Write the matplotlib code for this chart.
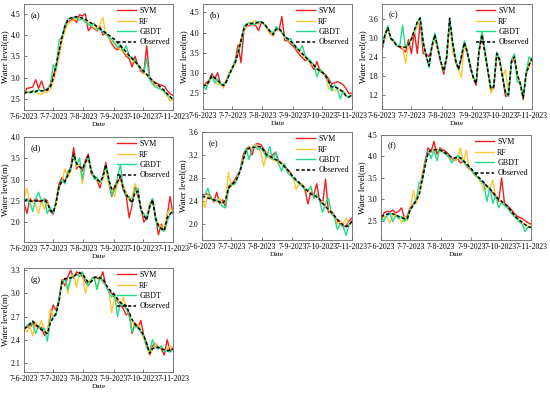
import matplotlib
matplotlib.use("Agg")
import matplotlib.pyplot as plt
import numpy as np
import pandas as pd

plt.rcParams['font.family'] = ['Liberation Serif', 'DejaVu Serif']

dates = pd.date_range('2023-06-07', periods=52, freq='3D')
tick_dates = pd.to_datetime(['2023-06-07', '2023-07-07', '2023-08-07', '2023-09-07', '2023-10-07', '2023-11-07'])
tick_labels = ['7-6-2023', '7-7-2023', '7-8-2023', '7-9-2023', '7-10-2023', '7-11-2023']
series_names = ['SVM', 'RF', 'GBDT', 'Observed']

# ---------------- (a) ----------------
obs_a = [2.65, 2.65, 2.66, 2.67, 2.68, 2.70, 2.69, 2.70, 2.72, 2.78, 2.98, 3.30, 3.62, 3.95, 4.20, 4.36, 4.40, 4.42, 4.43, 4.42,
         4.40, 4.37, 4.32, 4.28, 4.25, 4.20, 4.15, 4.10, 4.05, 4.00, 3.95, 3.90, 3.82, 3.75, 3.68, 3.60, 3.52, 3.45, 3.38, 3.30,
         3.22, 3.15, 3.08, 3.00, 2.93, 2.87, 2.82, 2.76, 2.70, 2.62, 2.55, 2.48]
svm_a = [2.58, 2.75, 2.76, 2.78, 2.95, 2.75, 2.92, 2.72, 2.70, 2.85, 3.05, 3.25, 3.55, 3.90, 4.15, 4.30, 4.35, 4.38, 4.30, 4.48,
         4.45, 4.50, 4.10, 4.20, 4.15, 4.10, 4.20, 4.00, 4.05, 3.95, 3.80, 3.70, 3.65, 3.75, 3.60, 3.50, 3.45, 3.25, 3.50, 3.30,
         3.15, 3.10, 3.75, 3.00, 2.92, 2.88, 2.85, 2.82, 2.80, 2.70, 2.62, 2.58]
rf_a = [2.65, 2.68, 2.63, 2.70, 2.66, 2.62, 2.60, 2.68, 2.65, 2.72, 2.90, 3.15, 3.50, 3.85, 4.10, 4.28, 4.32, 4.35, 4.38, 4.40,
        4.38, 4.35, 4.30, 4.22, 4.18, 4.12, 4.25, 4.42, 4.00, 3.95, 3.85, 3.80, 3.72, 3.65, 3.62, 3.55, 3.50, 3.42, 3.35, 3.28,
        3.20, 3.12, 3.05, 2.98, 2.90, 2.82, 2.78, 2.72, 2.65, 2.58, 2.45, 2.50]
gbdt_a = [2.64, 2.66, 2.64, 2.70, 2.65, 2.72, 2.68, 2.70, 2.75, 2.80, 3.30, 3.20, 3.88, 3.95, 4.25, 4.38, 4.40, 4.42, 4.40, 4.35,
          4.38, 4.30, 4.25, 4.22, 4.28, 4.15, 4.12, 4.08, 4.05, 3.95, 3.90, 3.82, 3.70, 3.78, 3.62, 3.75, 3.50, 3.48, 3.40, 3.30,
          3.22, 3.12, 3.45, 2.95, 2.85, 2.78, 2.75, 2.72, 2.68, 2.60, 2.55, 2.50]

# ---------------- (b) ----------------
obs_b = [2.70, 2.68, 2.78, 2.92, 2.88, 2.80, 2.75, 2.68, 2.78, 2.95, 3.12, 3.25, 3.50, 3.80, 4.10, 4.20, 4.22, 4.23, 4.24, 4.25,
         4.26, 4.22, 4.12, 4.02, 3.95, 4.08, 4.10, 4.02, 3.90, 3.85, 3.78, 3.72, 3.62, 3.55, 3.48, 3.40, 3.32, 3.25, 3.18, 3.10,
         3.05, 3.00, 2.92, 2.78, 2.65, 2.65, 2.62, 2.58, 2.52, 2.42, 2.40, 2.45]
svm_b = [2.62, 2.75, 2.80, 2.98, 2.85, 3.00, 2.72, 2.65, 2.82, 3.00, 3.10, 3.28, 3.70, 3.25, 4.05, 4.15, 4.18, 4.20, 4.18, 4.05,
         4.25, 4.20, 4.10, 3.98, 3.92, 4.10, 4.05, 4.40, 3.80, 3.80, 3.72, 3.65, 3.55, 3.45, 3.38, 3.30, 3.35, 3.20, 3.08, 3.28,
         3.05, 3.00, 2.95, 2.85, 2.72, 2.75, 2.78, 2.75, 2.70, 2.60, 2.48, 2.50]
rf_b = [2.72, 2.70, 2.75, 2.90, 2.80, 2.70, 2.78, 2.62, 2.80, 3.00, 3.15, 3.20, 3.55, 3.85, 4.05, 4.15, 4.22, 4.25, 4.30, 4.20,
        4.28, 4.20, 4.08, 4.00, 3.92, 4.10, 4.05, 4.00, 3.88, 3.82, 3.75, 3.70, 3.60, 3.52, 3.45, 3.38, 3.30, 3.22, 3.15, 3.08,
        3.02, 2.98, 2.90, 2.60, 2.62, 2.55, 2.60, 2.55, 2.50, 2.42, 2.40, 2.45]
gbdt_b = [2.70, 2.58, 2.80, 2.92, 2.75, 2.85, 2.70, 2.72, 2.75, 2.95, 3.10, 3.30, 3.45, 3.75, 4.15, 4.22, 4.25, 4.20, 4.22, 4.28,
          4.25, 4.20, 4.12, 4.05, 3.98, 4.15, 4.08, 4.00, 3.92, 3.80, 3.85, 3.70, 3.62, 3.55, 3.68, 3.42, 3.35, 3.28, 3.20, 2.90,
          3.10, 3.02, 2.90, 2.80, 2.55, 2.70, 2.60, 2.35, 2.55, 2.42, 2.38, 2.45]

# ---------------- (c) ----------------
obs_c = [2.65, 3.10, 3.32, 2.98, 2.90, 2.75, 2.72, 2.70, 2.70, 2.78, 2.95, 3.25, 3.50, 3.62, 2.85, 2.45, 2.12, 2.75, 3.10, 2.65,
         2.25, 1.95, 2.40, 3.62, 2.85, 2.30, 2.00, 2.40, 2.85, 2.55, 2.10, 1.75, 1.55, 2.60, 3.10, 2.55, 1.95, 1.40, 1.45, 2.50,
         2.30, 1.75, 1.25, 1.20, 2.25, 2.40, 1.85, 1.55, 1.10, 1.85, 2.15, 2.35]
svm_c = [2.62, 3.05, 3.30, 2.95, 2.88, 2.75, 2.70, 2.65, 2.55, 2.95, 2.50, 3.20, 2.50, 3.55, 2.50, 2.50, 2.40, 2.70, 3.05, 2.60,
         2.20, 1.85, 2.35, 3.55, 2.80, 2.25, 2.00, 2.35, 2.80, 2.50, 2.15, 1.75, 1.50, 2.55, 3.05, 2.50, 1.95, 1.35, 1.40, 2.45,
         2.25, 1.75, 1.15, 1.18, 2.20, 2.35, 1.80, 1.55, 1.05, 1.85, 2.10, 2.35]
rf_c = [2.68, 3.08, 3.30, 2.95, 2.90, 2.78, 2.70, 2.72, 2.20, 2.75, 3.05, 3.15, 3.35, 3.58, 2.80, 2.40, 2.10, 2.70, 3.05, 2.62,
        2.20, 1.95, 2.40, 3.55, 2.55, 2.30, 2.00, 1.75, 2.85, 2.50, 2.10, 1.70, 1.60, 2.60, 3.15, 2.50, 1.95, 1.25, 1.45, 2.50,
        2.25, 1.75, 2.00, 1.20, 2.25, 2.40, 1.85, 1.50, 1.10, 1.85, 2.15, 2.30]
gbdt_c = [2.70, 3.12, 3.38, 3.00, 2.92, 2.75, 2.72, 3.40, 2.68, 2.80, 2.98, 3.22, 3.48, 3.65, 2.90, 2.45, 2.05, 2.80, 3.15, 2.70,
          2.25, 1.95, 2.45, 3.60, 2.90, 2.35, 1.98, 2.45, 2.90, 2.60, 2.05, 1.78, 1.60, 2.65, 3.20, 2.60, 2.00, 1.40, 1.50, 2.55,
          2.35, 1.78, 1.30, 1.15, 2.30, 2.50, 1.60, 1.60, 1.12, 1.90, 2.40, 2.30]

# ---------------- (d) ----------------
obs_d = [2.50, 2.52, 2.50, 2.48, 2.50, 2.48, 2.50, 2.52, 2.45, 2.28, 2.22, 2.45, 2.85, 2.95, 2.95, 3.10, 3.25, 3.60, 3.38, 3.30,
         3.25, 3.40, 3.55, 3.20, 3.08, 3.00, 2.95, 3.05, 3.35, 3.00, 2.78, 2.80, 2.95, 3.08, 2.78, 2.65, 2.55, 2.45, 2.70, 2.72,
         2.30, 2.15, 2.05, 2.35, 2.52, 2.10, 1.92, 1.85, 1.80, 2.10, 2.18, 2.28]
svm_d = [2.45, 2.20, 2.55, 2.48, 2.55, 2.50, 2.45, 2.55, 2.50, 2.25, 2.18, 2.50, 2.90, 3.05, 2.95, 3.15, 3.30, 3.75, 3.25, 3.35,
         3.20, 3.45, 3.60, 3.15, 3.05, 2.98, 2.80, 3.10, 3.40, 2.95, 2.60, 2.85, 2.95, 3.05, 2.75, 2.60, 2.10, 2.40, 2.85, 2.60,
         2.35, 2.00, 2.10, 2.35, 2.55, 2.15, 1.70, 1.95, 1.80, 2.15, 2.60, 2.20]
rf_d = [2.55, 2.80, 2.45, 2.50, 2.40, 2.20, 2.50, 2.30, 2.48, 2.30, 2.25, 2.40, 2.80, 2.95, 3.25, 3.05, 3.20, 3.55, 3.30, 3.35,
        2.90, 3.35, 3.50, 3.20, 3.05, 3.00, 2.90, 3.00, 3.30, 2.85, 2.80, 2.60, 2.90, 3.00, 2.85, 2.70, 2.50, 2.60, 2.90, 2.70,
        2.30, 2.15, 2.10, 2.45, 2.50, 2.10, 1.95, 1.90, 1.85, 2.20, 2.30, 2.28]
gbdt_d = [2.50, 2.55, 2.45, 2.25, 2.55, 2.70, 2.48, 2.55, 2.20, 2.35, 2.20, 2.50, 2.80, 3.00, 2.90, 3.20, 3.25, 3.58, 3.35, 3.50,
          3.00, 3.40, 3.52, 3.25, 3.00, 3.05, 2.92, 3.08, 3.35, 3.05, 2.62, 2.75, 3.05, 3.35, 2.75, 2.62, 2.58, 2.45, 2.75, 2.80,
          2.25, 2.20, 2.05, 2.40, 2.55, 2.05, 1.90, 1.82, 1.78, 2.00, 2.20, 2.25]

# ---------------- (e) ----------------
obs_e = [2.48, 2.47, 2.45, 2.44, 2.42, 2.40, 2.38, 2.36, 2.42, 2.62, 2.68, 2.72, 2.80, 2.92, 3.12, 3.28, 3.32, 3.34, 3.33, 3.35,
         3.34, 3.28, 3.20, 3.18, 3.15, 3.12, 3.10, 3.05, 3.00, 2.95, 2.88, 2.82, 2.77, 2.72, 2.68, 2.62, 2.57, 2.52, 2.50, 2.47,
         2.43, 2.36, 2.30, 2.25, 2.20, 2.14, 2.08, 2.03, 1.98, 1.95, 1.98, 2.05]
svm_e = [2.50, 2.52, 2.52, 2.48, 2.38, 2.55, 2.35, 2.42, 2.30, 2.65, 2.70, 2.75, 2.85, 2.95, 3.20, 3.30, 3.35, 3.20, 3.38, 3.40,
         3.38, 3.30, 3.22, 3.15, 3.20, 3.25, 3.10, 3.05, 3.02, 2.95, 2.90, 2.80, 2.75, 2.72, 2.68, 2.60, 2.35, 2.55, 2.50, 2.70,
         2.40, 2.35, 2.78, 2.20, 2.22, 2.15, 2.05, 2.00, 1.95, 1.97, 2.05, 2.10]
rf_e = [2.48, 2.28, 2.50, 2.42, 2.45, 2.38, 2.45, 2.35, 2.40, 2.90, 2.65, 2.72, 2.82, 2.95, 3.15, 3.25, 3.35, 3.30, 3.38, 3.35,
        3.25, 3.00, 3.25, 3.15, 3.12, 3.10, 3.05, 3.08, 2.98, 2.95, 2.85, 2.80, 2.60, 2.70, 2.70, 2.62, 2.55, 2.65, 2.45, 2.48,
        2.42, 2.38, 2.30, 2.25, 2.18, 2.15, 2.00, 2.05, 2.00, 2.10, 1.98, 2.02]
gbdt_e = [2.46, 2.50, 2.62, 2.45, 2.40, 2.42, 2.38, 2.30, 2.28, 2.60, 2.70, 2.68, 2.78, 2.95, 3.10, 3.32, 3.12, 3.30, 3.35, 3.30,
          3.32, 3.25, 3.15, 3.35, 3.12, 3.25, 3.05, 2.92, 3.05, 2.90, 2.85, 2.80, 2.75, 2.70, 2.65, 2.60, 2.58, 2.65, 2.45, 2.52,
          2.40, 2.20, 2.35, 2.45, 2.18, 2.12, 1.90, 2.00, 1.95, 1.80, 1.98, 2.05]

# ---------------- (f) ----------------
obs_f = [2.60, 2.62, 2.65, 2.66, 2.66, 2.64, 2.60, 2.57, 2.55, 2.55, 2.78, 2.85, 2.98, 3.10, 3.45, 3.78, 4.08, 4.15, 4.16, 4.15,
         4.15, 4.12, 4.08, 4.03, 3.98, 3.96, 3.98, 3.97, 3.90, 3.84, 3.76, 3.69, 3.61, 3.53, 3.46, 3.39, 3.31, 3.24, 3.17, 3.08,
         3.00, 2.95, 2.90, 2.84, 2.75, 2.66, 2.58, 2.52, 2.46, 2.41, 2.36, 2.34]
svm_f = [2.52, 2.68, 2.72, 2.70, 2.75, 2.68, 2.72, 2.80, 2.55, 2.62, 2.82, 2.88, 3.00, 3.15, 3.55, 3.90, 4.20, 4.10, 4.35, 4.05,
         4.20, 4.15, 4.12, 4.05, 3.95, 3.90, 3.95, 3.85, 3.88, 3.80, 3.70, 3.65, 3.55, 3.50, 3.42, 3.38, 3.30, 3.25, 3.15, 3.05,
         2.95, 3.50, 2.90, 2.85, 2.78, 2.70, 2.62, 2.58, 2.55, 2.50, 2.45, 2.42]
rf_f = [2.62, 2.58, 2.60, 2.45, 2.62, 2.65, 2.58, 2.45, 2.60, 2.50, 2.80, 3.20, 2.90, 3.15, 3.50, 3.85, 4.10, 4.15, 4.10, 4.18,
        4.12, 4.10, 4.05, 4.00, 3.92, 3.90, 3.95, 4.20, 3.85, 4.15, 3.70, 3.65, 3.55, 3.48, 3.40, 3.20, 3.30, 3.25, 3.45, 3.05,
        3.00, 2.95, 2.88, 2.80, 2.72, 2.65, 2.58, 2.50, 2.48, 2.40, 2.38, 2.35]
gbdt_f = [2.58, 2.50, 2.62, 2.68, 2.48, 2.62, 2.55, 2.60, 2.48, 2.60, 2.75, 2.88, 3.00, 3.40, 3.40, 3.80, 4.12, 3.95, 4.15, 3.90,
          4.18, 4.10, 4.05, 4.00, 3.85, 3.95, 4.02, 3.95, 3.88, 3.80, 3.75, 3.65, 3.58, 3.50, 3.42, 3.35, 2.95, 3.28, 2.90, 3.10,
          2.80, 2.92, 2.85, 2.80, 2.70, 2.62, 2.55, 2.48, 2.42, 2.25, 2.35, 2.35]

# ---------------- (g) ----------------
obs_g = [2.55, 2.56, 2.60, 2.64, 2.60, 2.56, 2.53, 2.50, 2.48, 2.62, 2.68, 2.74, 2.90, 3.15, 3.19, 3.20, 3.20, 3.22, 3.25, 3.27,
         3.25, 3.20, 3.14, 3.15, 3.20, 3.22, 3.20, 3.19, 3.12, 3.06, 3.02, 2.98, 2.93, 2.88, 2.86, 2.84, 2.75, 2.66, 2.60, 2.56,
         2.52, 2.45, 2.35, 2.22, 2.28, 2.30, 2.30, 2.28, 2.27, 2.26, 2.26, 2.28]
svm_g = [2.52, 2.58, 2.55, 2.62, 2.58, 2.55, 2.56, 2.45, 2.50, 2.70, 2.85, 2.78, 2.92, 3.18, 3.10, 3.22, 3.30, 3.20, 3.28, 3.25,
         3.22, 3.15, 3.10, 3.18, 3.22, 3.20, 3.18, 3.28, 3.10, 3.05, 3.00, 2.95, 2.90, 2.85, 2.80, 2.72, 2.75, 2.48, 2.62, 2.55,
         2.65, 2.45, 2.35, 2.20, 2.32, 2.35, 2.30, 2.28, 2.20, 2.40, 2.25, 2.30]
rf_g = [2.55, 2.50, 2.58, 2.45, 2.62, 2.55, 2.65, 2.52, 2.48, 2.80, 2.70, 2.75, 2.88, 3.15, 3.20, 3.00, 3.22, 3.25, 3.08, 3.28,
        3.25, 3.00, 3.15, 3.18, 3.20, 3.05, 3.20, 3.15, 3.10, 3.05, 2.75, 2.95, 2.92, 2.85, 2.95, 2.80, 2.70, 2.65, 2.55, 2.60,
        2.50, 2.42, 2.30, 2.20, 2.28, 2.35, 2.28, 2.30, 2.25, 2.28, 2.32, 2.28]
gbdt_g = [2.55, 2.58, 2.62, 2.60, 2.48, 2.58, 2.52, 2.55, 2.38, 2.65, 2.70, 2.72, 2.95, 3.12, 3.20, 3.05, 3.20, 3.22, 3.25, 3.22,
          3.28, 3.18, 3.10, 3.18, 3.22, 3.05, 3.22, 3.15, 3.10, 3.02, 2.95, 3.00, 2.70, 2.88, 2.85, 2.80, 2.72, 2.50, 2.58, 2.55,
          2.50, 2.45, 2.30, 2.25, 2.40, 2.30, 2.28, 2.32, 2.25, 2.25, 2.24, 2.26]

panel_labels = ['(a)', '(b)', '(c)', '(d)', '(e)', '(f)', '(g)']
panel_data = [
    (svm_a, rf_a, gbdt_a, obs_a),
    (svm_b, rf_b, gbdt_b, obs_b),
    (svm_c, rf_c, gbdt_c, obs_c),
    (svm_d, rf_d, gbdt_d, obs_d),
    (svm_e, rf_e, gbdt_e, obs_e),
    (svm_f, rf_f, gbdt_f, obs_f),
    (svm_g, rf_g, gbdt_g, obs_g),
]
yticks = [
    [2.5, 3.0, 3.5, 4.0, 4.5],
    [2.5, 3.0, 3.5, 4.0, 4.5],
    [1.2, 1.8, 2.4, 3.0, 3.6],
    [2.0, 2.5, 3.0, 3.5, 4.0],
    [2.0, 2.4, 2.8, 3.2, 3.6],
    [2.5, 3.0, 3.5, 4.0, 4.5],
    [2.1, 2.4, 2.7, 3.0, 3.3],
]
ylims = [(2.24, 4.73), (2.10, 4.71), (0.75, 4.07), (1.53, 4.00), (1.72, 3.60), (2.05, 4.50), (1.98, 3.33)]

# axes boxes in pixels: left, top, right, bottom
boxes = [(24, 4, 173, 110), (203, 4, 352, 109), (382, 4, 532, 109),
         (24, 137, 173, 242), (202, 132, 352, 240), (381, 135, 531, 240),
         (24, 268, 173, 372)]

colors = ['#F01E1E', '#FFC733', '#22DC8C', 'black']

W, H = 550, 395
fig = plt.figure(figsize=(W / 100, H / 100), dpi=100)

for k in range(7):
    l, t, r, b = boxes[k]
    ax = fig.add_axes([l / W, 1 - b / H, (r - l) / W, (b - t) / H])
    svm, rf, gbdt, obs = panel_data[k]
    ax.plot(dates, svm, color=colors[0], lw=1.0, label='SVM')
    ax.plot(dates, rf, color=colors[1], lw=1.0, label='RF')
    ax.plot(dates, gbdt, color=colors[2], lw=1.0, label='GBDT')
    ax.plot(dates, obs, color='black', lw=1.1, linestyle=(0, (2.2, 1.4)), label='Observed')
    ax.set_xlim(tick_dates[0], tick_dates[-1])
    ax.set_ylim(*ylims[k])
    ax.set_xticks(tick_dates)
    ax.set_xticklabels(tick_labels)
    ax.set_yticks(yticks[k])
    ax.set_yticklabels([f'{v:.1f}' for v in yticks[k]])
    ax.tick_params(direction='in', length=2, width=0.5, labelsize=5.6, pad=2.5, colors='#444444', labelcolor='black')
    for s in ax.spines.values():
        s.set_linewidth(0.6)
        s.set_color('#666666')
    ax.set_xlabel('Date', fontsize=5.4, labelpad=0.5)
    ax.set_ylabel('Water level(m)', fontsize=6.3, labelpad=1.5)
    ax.text(0.045, 0.87, panel_labels[k], transform=ax.transAxes, fontsize=6.3)
    ax.legend(loc='upper right', frameon=False, fontsize=5.8, handlelength=2.3,
              handletextpad=0.4, labelspacing=0.3, borderaxespad=0.2, borderpad=0.2)

fig.savefig('out.png', dpi=100)
